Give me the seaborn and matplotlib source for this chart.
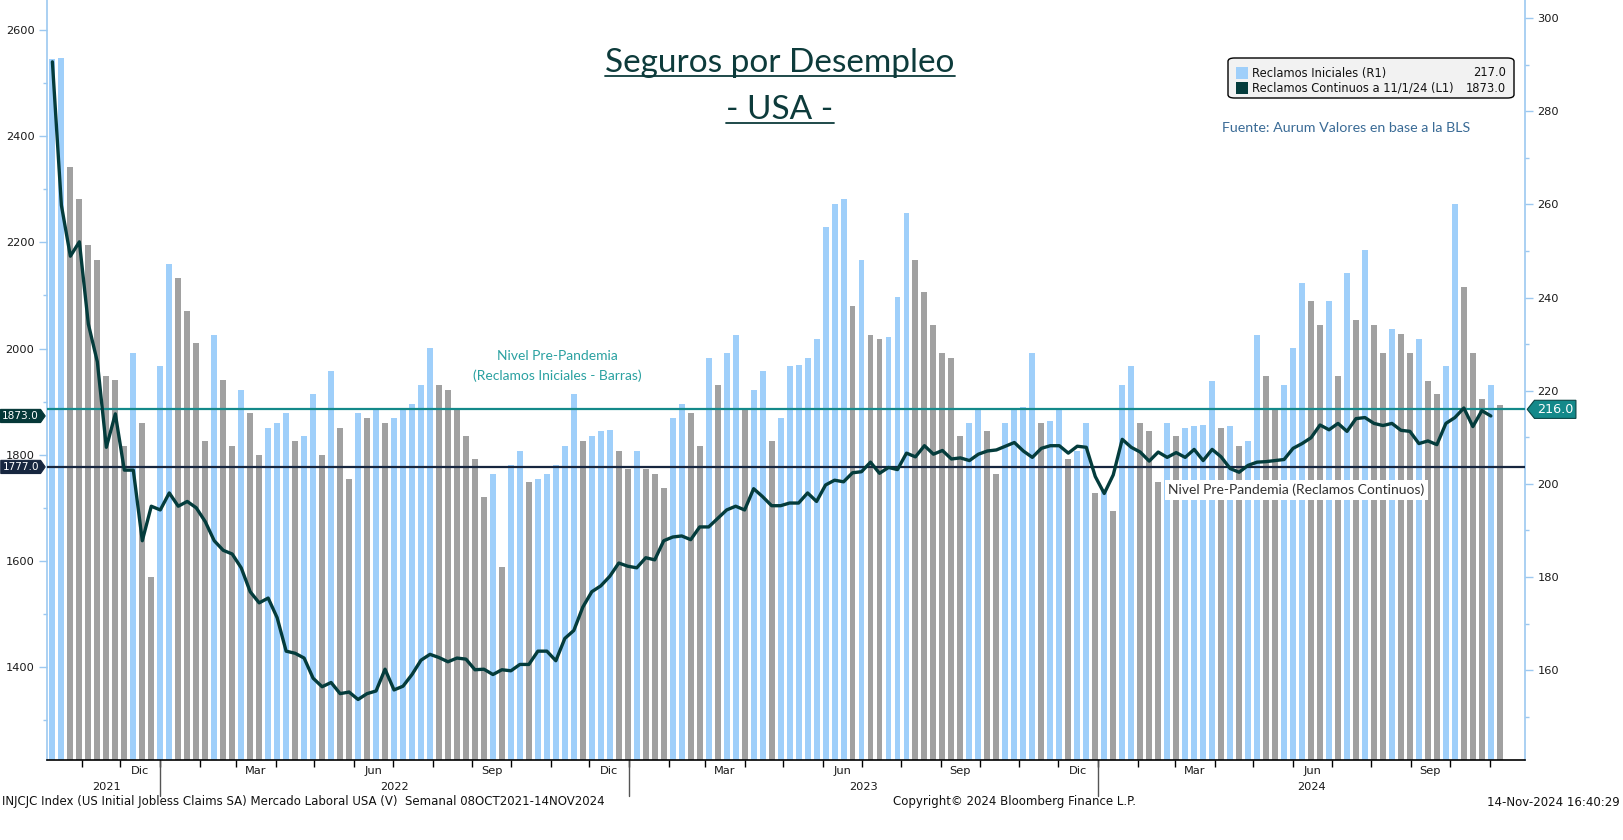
import numpy as np
import pandas as pd
import matplotlib
matplotlib.use('Agg')
import matplotlib.pyplot as plt
import matplotlib.transforms as mtransforms
from matplotlib.patches import FancyBboxPatch, Rectangle
from matplotlib.lines import Line2D
from matplotlib.path import Path
import seaborn as sns

# Reclamos iniciales (miles, semanal, eje derecho) desde 09-Oct-2021
iniciales = [
    291.2, 291.5, 268.1, 261.2, 251.3, 248.1, 223.2, 222.2, 208.1, 228.2,
    213.1, 180.0, 225.2, 247.3, 244.1, 237.1, 230.2, 209.2, 232.0, 222.2,
    208.1, 220.2, 215.2, 206.1, 212.1, 213.1, 215.2, 209.2, 210.3, 219.2,
    206.1, 224.2, 212.1, 201.1, 215.2, 214.2, 216.2, 213.1, 214.2, 216.2,
    217.1, 221.2, 229.2, 221.2, 220.2, 216.2, 210.3, 205.3, 197.1, 202.1,
    182.2, 204.1, 207.1, 200.3, 201.1, 202.1, 204.1, 208.1, 219.2, 209.2,
    210.3, 211.3, 211.6, 207.1, 203.1, 207.1, 203.1, 202.1, 199.2, 214.2,
    217.1, 215.2, 208.1, 227.1, 221.2, 228.2, 232.0, 216.2, 220.2, 224.2,
    209.2, 214.2, 225.2, 225.5, 227.1, 231.2, 255.1, 260.1, 261.2, 238.1,
    248.1, 232.0, 231.2, 231.5, 240.2, 258.1, 248.1, 241.2, 234.2, 228.2,
    227.1, 210.3, 213.1, 216.2, 211.3, 202.1, 213.1, 216.2, 216.5, 228.2,
    213.1, 213.4, 216.2, 205.3, 207.1, 213.1, 198.1, 199.0, 194.2, 221.2,
    225.2, 213.1, 211.3, 200.3, 213.1, 210.3, 212.1, 212.4, 212.7, 222.1,
    212.1, 212.4, 208.1, 209.2, 232.0, 223.2, 216.2, 221.2, 229.2, 243.1,
    239.2, 234.2, 239.2, 223.2, 245.2, 235.2, 250.2, 234.2, 228.2, 233.2,
    232.1, 228.2, 231.2, 222.1, 219.2, 225.2, 260.1, 242.2, 228.2, 218.2,
    221.2, 217.0,
]

# Reclamos continuos (miles, eje izquierdo), hasta 02-Nov-2024
continuos = [
    2540, 2270, 2174, 2201, 2046, 1975, 1814, 1877, 1771, 1771,
    1638, 1703, 1696, 1728, 1703, 1712, 1700, 1674, 1638, 1620,
    1613, 1587, 1542, 1521, 1530, 1493, 1430, 1426, 1417, 1379,
    1363, 1371, 1350, 1353, 1339, 1350, 1355, 1396, 1357, 1364,
    1386, 1413, 1424, 1418, 1410, 1417, 1415, 1395, 1396, 1386,
    1395, 1393, 1405, 1405, 1430, 1430, 1412, 1454, 1469, 1513,
    1542, 1553, 1571, 1596, 1590, 1587, 1606, 1602, 1638, 1645,
    1647, 1640, 1664, 1664, 1680, 1696, 1703, 1696, 1736, 1721,
    1704, 1704, 1709, 1709, 1728, 1712, 1743, 1752, 1749, 1766,
    1768, 1786, 1765, 1776, 1772, 1803, 1796, 1817, 1801, 1808,
    1792, 1794, 1789, 1801, 1807, 1809, 1816, 1823, 1807, 1795,
    1812, 1817, 1817, 1803, 1816, 1814, 1759, 1727, 1762, 1829,
    1814, 1805, 1788, 1805, 1795, 1804, 1795, 1810, 1789, 1810,
    1796, 1774, 1767, 1780, 1786, 1787, 1789, 1791, 1812, 1821,
    1832, 1856, 1847, 1859, 1844, 1868, 1870, 1859, 1855, 1859,
    1846, 1844, 1821, 1826, 1819, 1859, 1870, 1888, 1853, 1883,
    1873,
]

nivel_iniciales = 216.0
nivel_continuos = 1777.0
meses_es = {3: 'Mar', 6: 'Jun', 9: 'Sep', 12: 'Dic'}

inicio = pd.Timestamp('2021-10-09')


def pos(fecha):
    return (pd.Timestamp(fecha) - inicio).days / 7.0


df_bar = pd.DataFrame({'pos': np.arange(len(iniciales)), 'valor': iniciales})
df_bar['dir'] = np.where(df_bar['valor'].diff().fillna(1) > 0, 'sube', 'baja')
df_lin = pd.DataFrame({'pos': np.arange(len(continuos)), 'valor': continuos})

sns.set_theme(style='white')
plt.rcParams['font.family'] = ['DejaVu Sans']

W, H = 1624, 840
fig = plt.figure(figsize=(W / 100, H / 100), dpi=100)
ax = fig.add_axes([47 / W, 80 / H, 1478 / W, 760 / H])

azul = '#9fcffa'
gris = '#a1a1a1'
verde = '#043c3c'
eje = '#9cc8f0'

sns.barplot(data=df_bar, x='pos', y='valor', hue='dir',
            palette={'sube': azul, 'baja': gris}, native_scale=True,
            dodge=False, width=0.66, errorbar=None, legend=False,
            saturation=1, linewidth=0, ax=ax)
ax.set_xlim(-0.6, 163.8)
ax.set_ylim(140.7, 303.9)

ax_l = ax.twinx()
sns.lineplot(data=df_lin, x='pos', y='valor', ax=ax_l, color=verde, linewidth=2.4)
ax_l.set_ylim(1225, 2656.5)
ax_l.set_xlim(-0.6, 163.8)

ax.yaxis.tick_right()
ax_l.yaxis.tick_left()
for a in (ax, ax_l):
    a.set_xlabel('')
    a.set_ylabel('')

# ejes y
ax.set_yticks(range(160, 301, 20))
ax.set_yticks(range(150, 301, 10), minor=True)
ax_l.set_yticks(range(1400, 2601, 200))
ax_l.set_yticks(range(1300, 2601, 100), minor=True)
for a in (ax, ax_l):
    a.tick_params(axis='y', which='major', direction='out', length=6, width=1,
                  color=eje, labelsize=8.2, labelcolor='#1a1a1a', pad=3)
    a.tick_params(axis='y', which='minor', direction='out', length=3, width=1, color=eje)

for s in ('left', 'right'):
    ax.spines[s].set_color(eje)
    ax.spines[s].set_linewidth(1.2)
ax.spines['top'].set_visible(False)
ax.spines['bottom'].set_color('black')
ax.spines['bottom'].set_linewidth(1.2)
for s in ax_l.spines.values():
    s.set_visible(False)

# eje x: meses y años
meses = pd.date_range('2021-11-01', '2024-11-01', freq='MS')
ax.set_xticks([pos(m) for m in meses])
ax.set_xticklabels([])
ax.tick_params(axis='x', direction='out', length=5, width=1, color='black', bottom=True)

tx = mtransforms.blended_transform_factory(ax.transData, ax.transAxes)
for m in meses:
    if m.month in meses_es:
        centro = (pos(m) + pos(m + pd.offsets.MonthBegin(1))) / 2
        ax.text(centro, -11 / 760, meses_es[m.month], transform=tx, ha='center',
                va='center', fontsize=8.2, color='#1a1a1a')

xmax = ax.get_xlim()[1]
bordes = [0.0, pos('2022-01-01'), pos('2023-01-01'), pos('2024-01-01'), xmax]
for i, anio in enumerate(['2021', '2022', '2023', '2024']):
    ax.text((bordes[i] + bordes[i + 1]) / 2, -27 / 760, anio, transform=tx,
            ha='center', va='center', fontsize=8.2, color='#1a1a1a')
for b in bordes[1:4]:
    ax.plot([b, b], [0, -36 / 760], transform=tx, color='#555555', lw=1, clip_on=False)

# niveles pre-pandemia
ax.axhline(nivel_iniciales, color='#14898a', lw=1.6, zorder=3)
ax_l.axhline(nivel_continuos, color='#17263f', lw=1.6, zorder=1)


def tag_derecha(x0, y0, width, height, mutation_size):
    pad = mutation_size * 0.15
    x0, y0, width, height = x0 - pad, y0 - pad, width + 2 * pad, height + 2 * pad
    punta = height * 0.35
    v = [(x0, y0), (x0 + width, y0), (x0 + width + punta, y0 + height / 2),
         (x0 + width, y0 + height), (x0, y0 + height), (x0, y0)]
    return Path(v, closed=True)


def tag_izquierda(x0, y0, width, height, mutation_size):
    pad = mutation_size * 0.2
    x0, y0, width, height = x0 - pad, y0 - pad, width + 2 * pad, height + 2 * pad
    punta = height * 0.4
    v = [(x0, y0), (x0 + width, y0), (x0 + width, y0 + height), (x0, y0 + height),
         (x0 - punta, y0 + height / 2), (x0, y0)]
    return Path(v, closed=True)


tl = mtransforms.blended_transform_factory(ax.transAxes, ax_l.transData)
tr = mtransforms.blended_transform_factory(ax.transAxes, ax.transData)
ax_l.text(-8 / 1478, continuos[-1], f'{continuos[-1]:.1f}', transform=tl, ha='right',
          va='center', color='white', fontsize=7.6, clip_on=False, zorder=6,
          bbox=dict(boxstyle=tag_derecha, fc='#053838', ec='#053838', lw=0.8))
ax_l.text(-8 / 1478, nivel_continuos, f'{nivel_continuos:.1f}', transform=tl, ha='right',
          va='center', color='white', fontsize=7.6, clip_on=False, zorder=6,
          bbox=dict(boxstyle=tag_derecha, fc='#17263f', ec='#17263f', lw=0.8))
ax_l.text(1 + 12 / 1478, nivel_iniciales, f'{nivel_iniciales:.1f}', transform=tr, ha='left',
          va='center', color='white', fontsize=9.2, clip_on=False, zorder=6,
          bbox=dict(boxstyle=tag_izquierda, fc='#14898a', ec='#0b4545', lw=0.8))

# textos
titulo = fig.text(780 / W, 1 - 72 / H, 'Seguros por Desempleo', ha='center', va='baseline',
                  fontsize=24, color='#0d3b3b', family='Lato')
sub = fig.text(780 / W, 1 - 119 / H, '- USA -', ha='center', va='baseline',
               fontsize=24, color='#0d3b3b', family='Lato')

fig.text(557 / W, 1 - 356 / H, 'Nivel Pre-Pandemia', ha='center', va='center',
         fontsize=10, color='#2aa1a1', family='Lato')
fig.text(557 / W, 1 - 376 / H, '(Reclamos Iniciales - Barras)', ha='center', va='center',
         fontsize=10, color='#2aa1a1', family='Lato')
fig.text(1168 / W, 1 - 490 / H, 'Nivel Pre-Pandemia (Reclamos Continuos)', ha='left',
         va='center', fontsize=10, color='#333333', family='Lato', zorder=5,
         bbox=dict(boxstyle='square,pad=0.25', fc='white', ec='none'))
fig.text(1470 / W, 1 - 128 / H, 'Fuente: Aurum Valores en base a la BLS', ha='right',
         va='center', fontsize=10.3, color='#3a6b96', family='Lato')

# leyenda
fig.add_artist(FancyBboxPatch((1228 / W, 1 - 98 / H), 286 / W, 40 / H,
                              boxstyle='round,pad=0,rounding_size=0.004',
                              transform=fig.transFigure, fc='#f2f2f2', ec='black', lw=1))
entradas = [(azul, 'Reclamos Iniciales (R1)', f'{iniciales[-1]:.1f}', 73),
            (verde, 'Reclamos Continuos a 11/1/24 (L1)', f'{continuos[-1]:.1f}', 88)]
for color, etiqueta, valor, y in entradas:
    fig.add_artist(Rectangle((1236 / W, 1 - (y + 6) / H), 12 / W, 12 / H,
                             transform=fig.transFigure, fc=color, ec='none'))
    fig.text(1252 / W, 1 - y / H, etiqueta, ha='left', va='center', fontsize=8.3, color='#111111')
    fig.text(1506 / W, 1 - y / H, valor, ha='right', va='center', fontsize=8.3, color='#111111')

fig.text(2 / W, 1 - 802 / H,
         'INJCJC Index (US Initial Jobless Claims SA) Mercado Laboral USA (V)  Semanal 08OCT2021-14NOV2024',
         ha='left', va='center', fontsize=8.5, color='#111111')
fig.text(1015 / W, 1 - 802 / H, 'Copyright\u00a9 2024 Bloomberg Finance L.P.', ha='center',
         va='center', fontsize=8.5, color='#111111')
fig.text(1620 / W, 1 - 802 / H, '14-Nov-2024 16:40:29', ha='right', va='center',
         fontsize=8.5, color='#111111')

# subrayado del título
fig.canvas.draw()
rend = fig.canvas.get_renderer()
for t in (titulo, sub):
    bb = t.get_window_extent(rend)
    yb = t.get_position()[1] - 4 / H
    fig.add_artist(Line2D([bb.x0 / W, bb.x1 / W], [yb, yb], transform=fig.transFigure,
                          color='#0d3b3b', lw=1.3))

fig.savefig('out.png', dpi=100)
